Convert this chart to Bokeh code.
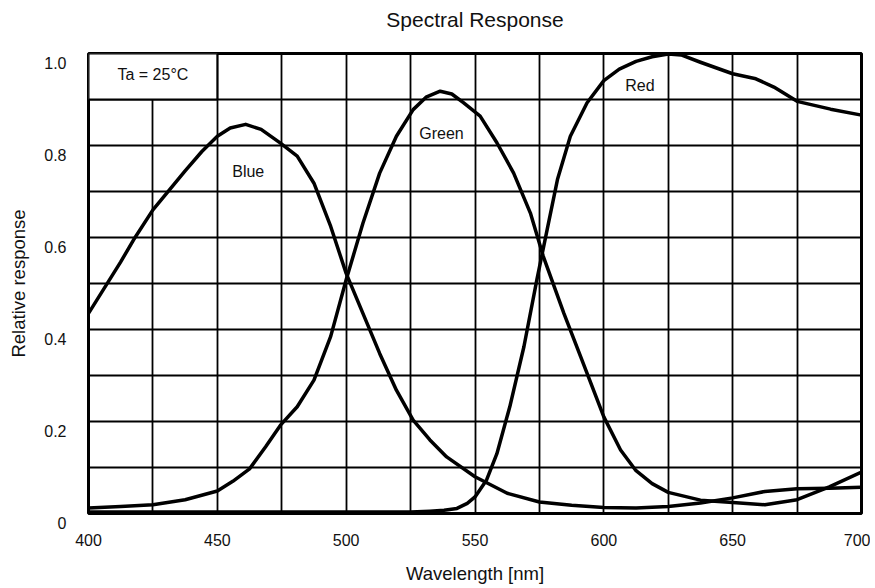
from bokeh.plotting import figure
from bokeh.models import Range1d, FixedTicker, ColumnDataSource
from bokeh.core.properties import value
from bokeh.embed import file_html
from bokeh.resources import INLINE

FONT = "Liberation Sans"

# ---- data ----
blue_nm = [400, 412.5, 417.5, 425, 437.5, 444, 450, 455, 461, 467, 474.5, 481, 487.5, 494, 500,
           506.5, 513, 519.5, 526, 532.5, 539, 550, 562.5, 575, 587.5, 600, 612.5, 625,
           637.5, 650, 662.5, 675, 687.5, 700]
blue_val = [0.435, 0.547, 0.595, 0.66, 0.745, 0.787, 0.82, 0.838, 0.846, 0.835, 0.805, 0.777,
            0.718, 0.624, 0.522, 0.435, 0.348, 0.268, 0.203, 0.16, 0.123, 0.08, 0.044, 0.025,
            0.018, 0.013, 0.012, 0.015, 0.023, 0.034, 0.048, 0.054, 0.055, 0.057]

green_nm = [400, 412.5, 425, 437.5, 450, 456, 462.5, 468.75, 474.5, 481, 487.5, 494, 500,
            506.5, 513, 519.5, 526, 531, 536.5, 541, 545.5, 552, 558.5, 565, 571.5, 576.5,
            584.5, 591, 600, 606.5, 612.5, 618.75, 625, 637.5, 650, 662.5, 675, 687.5, 700]
green_val = [0.012, 0.015, 0.019, 0.03, 0.049, 0.07, 0.097, 0.145, 0.192, 0.232, 0.29, 0.385,
             0.508, 0.631, 0.74, 0.82, 0.878, 0.905, 0.918, 0.912, 0.893, 0.864, 0.806, 0.74,
             0.653, 0.559, 0.435, 0.341, 0.21, 0.138, 0.093, 0.065, 0.046, 0.029, 0.024,
             0.019, 0.03, 0.058, 0.09]

red_nm = [400, 450, 500, 525, 532.5, 538, 543, 547, 550, 554.5, 558.5, 563.5, 569, 574, 578,
          582, 587, 593.5, 600, 606, 612.5, 618.75, 625, 630, 637.5, 650, 659, 666, 675,
          688, 700]
red_val = [0.003, 0.003, 0.003, 0.003, 0.005, 0.007, 0.011, 0.022, 0.036, 0.073, 0.13, 0.232,
           0.363, 0.508, 0.617, 0.726, 0.82, 0.893, 0.941, 0.966, 0.983, 0.993, 0.999, 0.997,
           0.981, 0.956, 0.945, 0.927, 0.896, 0.879, 0.866]

x_ticks = [400, 450, 500, 550, 600, 650, 700]
y_ticks = [0, 0.2, 0.4, 0.6, 0.8, 1.0]
y_tick_labels = ["0", "0.2", "0.4", "0.6", "0.8", "1.0"]
x_grid = [400, 425, 450, 475, 500, 525, 550, 575, 600, 625, 650, 675, 700]
y_grid = [0.1, 0.2, 0.3, 0.4, 0.5, 0.6, 0.7, 0.8, 0.9]

label_text = ["Blue", "Green", "Red"]
label_x = [462, 537, 614]
label_y = [0.744, 0.826, 0.931]

note_text = ["Ta = 25°C"]
note_x = [425]
note_y = [0.955]
note_box = dict(left=[400], right=[450], bottom=[0.9], top=[1.0])

title_text = "Spectral Response"

# ---- figure ----
p = figure(width=870, height=586, output_backend="svg", toolbar_location=None,
           x_range=Range1d(400, 700), y_range=Range1d(0, 1.0),
           title=title_text + "\n",   # trailing empty line lifts the title in its box
           min_border_left=88, min_border_right=9, min_border_top=53, min_border_bottom=73)

p.title.align = "center"
p.title.text_font = FONT
p.title.text_font_size = "21px"
p.title.text_font_style = "normal"
p.title.text_color = "#111111"
p.title.standoff = 0

p.outline_line_color = "black"
p.outline_line_width = 3
p.background_fill_color = "white"
p.border_fill_color = "white"

p.xgrid.ticker = FixedTicker(ticks=x_grid)
p.ygrid.ticker = FixedTicker(ticks=y_grid)
for g in (p.xgrid, p.ygrid):
    g.grid_line_color = "black"
    g.grid_line_width = 1.8
    g.grid_line_alpha = 1.0

p.xaxis.ticker = FixedTicker(ticks=x_ticks)
p.yaxis.ticker = FixedTicker(ticks=y_ticks)
# the reference's y labels sit a little below their grid lines: a leading empty line shifts them
p.yaxis.major_label_overrides = {t: "\n" + s for t, s in zip(y_ticks, y_tick_labels)}
p.xaxis.axis_label = "Wavelength [nm]"
p.yaxis.axis_label = "Relative response"
for ax in (p.xaxis, p.yaxis):
    ax.axis_line_color = None
    ax.major_tick_line_color = None
    ax.minor_tick_line_color = None
    ax.major_tick_out = 0
    ax.major_tick_in = 0
    ax.minor_tick_out = 0
    ax.minor_tick_in = 0
    ax.major_label_text_font = FONT
    ax.major_label_text_font_size = "16px"
    ax.major_label_text_color = "#111111"
    ax.axis_label_text_font = FONT
    ax.axis_label_text_font_size = "18.5px"
    ax.axis_label_text_font_style = "normal"
    ax.axis_label_text_color = "#111111"
p.xaxis.major_label_standoff = 20
p.xaxis.axis_label_standoff = 14
p.yaxis.major_label_standoff = 22
p.yaxis.axis_label_standoff = 12

# temperature note box
p.quad(source=ColumnDataSource(note_box), left="left", right="right", bottom="bottom", top="top",
       fill_color="white", line_color="black", line_width=2)
p.text(x=note_x, y=note_y, text=note_text, text_font=value(FONT), text_font_size="16px",
       text_align="center", text_baseline="middle", text_color="#111111")

# curves
for xs, ys in ((blue_nm, blue_val), (green_nm, green_val), (red_nm, red_val)):
    p.line(xs, ys, line_color="black", line_width=3.5, line_join="round")

p.text(x=label_x, y=label_y, text=label_text, text_font=value(FONT), text_font_size="16px",
       text_align="center", text_baseline="middle", text_color="#111111")

open("out.html", "w").write(file_html(p, INLINE))
